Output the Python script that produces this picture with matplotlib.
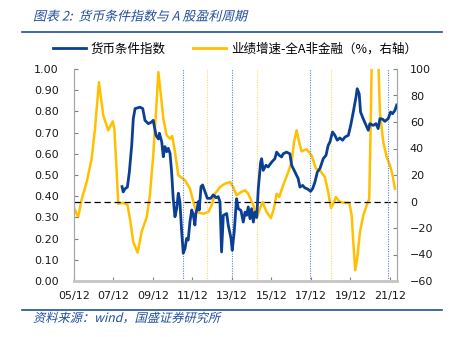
import matplotlib.pyplot as plt
from matplotlib.lines import Line2D
from matplotlib.textpath import TextPath
from matplotlib.patches import PathPatch
from matplotlib.font_manager import FontProperties
from matplotlib.transforms import Affine2D

plt.rcParams['font.family'] = ['Noto Sans CJK SC', 'DejaVu Sans']

# 货币条件指数（左轴），时间为小数年
mci_t = [2008.35, 2008.41, 2008.50, 2008.62, 2008.72, 2008.84, 2008.92, 2009.01, 2009.26, 2009.40,
         2009.51, 2009.68, 2009.85, 2009.93, 2010.07, 2010.19, 2010.24, 2010.36, 2010.44, 2010.52,
         2010.61, 2010.69, 2010.78, 2010.86, 2010.94, 2011.03, 2011.12, 2011.20, 2011.28, 2011.37,
         2011.45, 2011.54, 2011.62, 2011.70, 2011.79, 2011.88, 2011.96, 2012.04, 2012.09, 2012.16,
         2012.21, 2012.26, 2012.35, 2012.43, 2012.55, 2012.67, 2012.84, 2012.97, 2013.11, 2013.22,
         2013.31, 2013.39, 2013.48, 2013.65, 2013.73, 2013.87, 2013.93, 2014.03, 2014.15, 2014.24,
         2014.37, 2014.49, 2014.58, 2014.66, 2014.74, 2014.83, 2014.91, 2015.00, 2015.08, 2015.17,
         2015.25, 2015.37, 2015.42, 2015.50, 2015.64, 2015.75, 2015.93, 2016.09, 2016.18, 2016.31,
         2016.43, 2016.51, 2016.68, 2016.85, 2016.94, 2017.11, 2017.27, 2017.36, 2017.50, 2017.61,
         2017.73, 2017.90, 2018.00, 2018.12, 2018.24, 2018.37, 2018.54, 2018.68, 2018.79, 2018.88,
         2019.01, 2019.13, 2019.25, 2019.38, 2019.52, 2019.64, 2019.81, 2019.93, 2020.06, 2020.20,
         2020.26, 2020.36, 2020.43, 2020.56, 2020.70, 2020.82, 2020.90, 2021.07, 2021.21, 2021.32,
         2021.41, 2021.55, 2021.66, 2021.83, 2021.95, 2022.05, 2022.17, 2022.26]
mci = [0.445, 0.420, 0.435, 0.443, 0.514, 0.640, 0.766, 0.813, 0.820, 0.813,
       0.758, 0.742, 0.750, 0.758, 0.687, 0.670, 0.697, 0.657, 0.586, 0.634,
       0.610, 0.626, 0.602, 0.516, 0.390, 0.303, 0.343, 0.414, 0.374, 0.233,
       0.131, 0.154, 0.201, 0.193, 0.280, 0.335, 0.311, 0.264, 0.320, 0.343,
       0.374, 0.335, 0.445, 0.453, 0.421, 0.390, 0.390, 0.406, 0.393, 0.398,
       0.374, 0.137, 0.310, 0.318, 0.263, 0.200, 0.145, 0.231, 0.388, 0.341,
       0.333, 0.278, 0.325, 0.310, 0.349, 0.294, 0.341, 0.278, 0.325, 0.300,
       0.435, 0.561, 0.577, 0.522, 0.546, 0.538, 0.561, 0.577, 0.608, 0.593,
       0.585, 0.600, 0.608, 0.600, 0.546, 0.514, 0.483, 0.443, 0.451, 0.439,
       0.435, 0.423, 0.435, 0.467, 0.514, 0.530, 0.577, 0.593, 0.640, 0.656,
       0.703, 0.687, 0.664, 0.675, 0.664, 0.679, 0.687, 0.734, 0.797, 0.868,
       0.907, 0.883, 0.797, 0.766, 0.737, 0.711, 0.742, 0.734, 0.742, 0.719,
       0.766, 0.763, 0.753, 0.766, 0.797, 0.789, 0.805, 0.830]

# 业绩增速-全A非金融（%，右轴）
earn_t = [2005.92, 2006.13, 2006.31, 2006.56, 2006.81, 2006.98, 2007.18, 2007.40, 2007.65, 2007.88,
          2007.96, 2008.08, 2008.16, 2008.41, 2008.62, 2008.75, 2008.92, 2009.14, 2009.34, 2009.60,
          2009.76, 2009.93, 2010.07, 2010.19, 2010.32, 2010.44, 2010.61, 2010.78, 2010.89, 2011.03,
          2011.20, 2011.54, 2011.79, 2012.01, 2012.13, 2012.46, 2012.72, 2012.89, 2013.06, 2013.31,
          2013.56, 2013.82, 2013.98, 2014.15, 2014.37, 2014.58, 2014.74, 2015.00, 2015.17, 2015.33,
          2015.47, 2015.67, 2015.89, 2016.04, 2016.18, 2016.31, 2016.51, 2016.77, 2016.94, 2017.06,
          2017.19, 2017.32, 2017.44, 2017.70, 2017.95, 2018.17, 2018.37, 2018.62, 2018.79, 2018.93,
          2019.05, 2019.18, 2019.35, 2019.55, 2019.86, 2019.98, 2020.06, 2020.16, 2020.26, 2020.40,
          2020.57, 2020.74, 2020.87, 2020.94, 2021.00, 2021.16, 2021.32, 2021.41, 2021.58, 2021.75,
          2021.92, 2022.05, 2022.17]
earn = [-5, -11.7, 2, 14.7, 32.3, 55, 90, 65, 53.7, 60.5,
        55, 22, -1.7, -1, -2.4, -13, -30.6, -38.6, -23, -11.7,
        4.6, 34.8, 67.5, 97.7, 80, 62.5, 50, 47.4, 49.4, 37.4,
        19.8, 16, 9.7, -2.9, -8, -9.2, -8, -2.9, 5.9, 10.9,
        13.4, 14.7, 10.9, 4.6, 7.1, 8.4, 5.9, -2.9, -12.5, -5.4,
        -0.4, -8, -12.5, -5.4, 5.9, 3.4, 12.2, 22.3, 29.8, 44.9,
        53.7, 44.9, 37.9, 39.4, 34.8, 24.8, 23.5, 18.5, 7.2, -4.9,
        -1.6, 3.4, 0.1, -0.9, -1.1, -10.4, -30.5, -51.9, -43, -23,
        -10.4, -2.9, 2.1, 55, 110, 180, 110, 67.5, 44.9, 33.6,
        27.3, 19.8, 9.7]

# 竖向虚线所在时点
blue_marks = [2011.42, 2013.90, 2017.88, 2021.83]
gold_marks = [2012.67, 2015.17, 2018.93]

tick_pos = [2005.917 + 2 * i for i in range(9)]
tick_labels = ['05/12', '07/12', '09/12', '11/12', '13/12', '15/12', '17/12', '19/12', '21/12']

BLUE = '#0b3f94'
GOLD = '#ffc000'
TXT_BLUE = '#1f4e9c'
W, H = 452, 337


def italic_text(fig, x, y, s, size, color):
    """CJK 字体没有斜体，用路径加错切来画斜体字（x, y 为像素，y 为基线）"""
    prop = FontProperties(family=['Noto Sans CJK SC', 'DejaVu Sans'])
    path = TextPath((0, 0), s, size=size, prop=prop)
    tr = Affine2D().skew_deg(14, 0).scale(100 / 72).translate(x, H - y)
    fig.add_artist(PathPatch(path, transform=tr, facecolor=color, edgecolor='none', lw=0))


fig = plt.figure(figsize=(W / 100, H / 100), dpi=100)
ax = fig.add_axes([74 / W, 1 - 281 / H, (396.7 - 74) / W, (281 - 69) / H])
ax2 = ax.twinx()

for t in blue_marks:
    ax.axvline(t, color='#5b86c9', lw=0.8, ls=(0, (1, 1.2)), zorder=1)
for t in gold_marks:
    ax.axvline(t, color='#ffd966', lw=0.8, ls=(0, (1, 1.2)), zorder=1)

ax.plot(mci_t, mci, color=BLUE, lw=2.0, zorder=3)
ax2.plot(earn_t, earn, color=GOLD, lw=1.8, zorder=2)
ax2.axhline(0, color='black', lw=0.9, ls=(0, (5, 3)), zorder=4)

ax.set_xlim(2005.917, 2022.26)
ax.set_ylim(0, 1.0)
ax2.set_ylim(-60, 100)
ax.set_yticks([i / 10 for i in range(11)])
ax.set_yticklabels([f'{i / 10:.2f}' for i in range(11)])
ax2.set_yticks(range(-60, 101, 20))
ax.set_xticks(tick_pos)
ax.set_xticklabels(tick_labels)

for a in (ax, ax2):
    a.spines['top'].set_visible(False)
    a.spines['left'].set_color('#a6a6a6')
    a.spines['right'].set_color('#a6a6a6')
    a.spines['bottom'].set_color('#c8c8c8')
    a.spines['bottom'].set_linewidth(2.0)
    a.tick_params(direction='in', length=3, width=0.8, color='#808080',
                  labelsize=8, labelcolor='#1a1a1a')
    for lab in a.get_xticklabels() + a.get_yticklabels():
        lab.set_family('DejaVu Sans')
ax.tick_params(axis='y', pad=11)
ax2.tick_params(axis='y', pad=9.5)
ax.tick_params(axis='x', pad=7)
ax.patch.set_visible(False)
ax.set_zorder(ax2.get_zorder() + 1)

# 图例
handles = [Line2D([], [], color=BLUE, lw=2.0), Line2D([], [], color=GOLD, lw=2.0)]
fig.legend(handles, ['货币条件指数', '业绩增速-全A非金融（%，右轴）'],
           loc='center', bbox_to_anchor=(0.52, 1 - 49 / H), ncol=2, frameon=False,
           fontsize=9, handlelength=2.6, handletextpad=0.4, columnspacing=2.2)

# 标题与来源
italic_text(fig, 33, 20.5, '图表 2:  货币条件指数与 A 股盈利周期', 9.3, TXT_BLUE)
fig.add_artist(Line2D([22 / W, 442 / W], [1 - 31.5 / H] * 2, color=TXT_BLUE, lw=1.2))
fig.add_artist(Line2D([22 / W, 442 / W], [1 - 309.5 / H] * 2, color=TXT_BLUE, lw=1.2))
italic_text(fig, 33, 322, '资料来源：wind，国盛证券研究所', 8.8, TXT_BLUE)

fig.savefig('out.png', dpi=100)
